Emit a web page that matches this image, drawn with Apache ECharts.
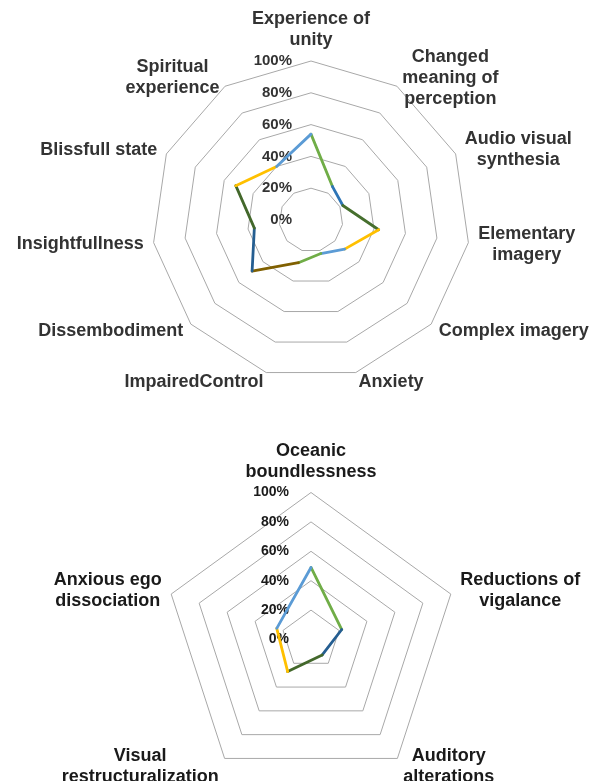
<!DOCTYPE html>
<html>
<head>
<meta charset="utf-8">
<script src="https://cdn.jsdelivr.net/npm/echarts@6/dist/echarts.min.js"></script>
<style>
    html, body { margin: 0; background: #fff; }
    #chart { width: 607px; height: 781px; }
</style>
</head>
<body>
<div id="chart"></div>
<script>
// upper radar, clockwise from the top
var topNames = ['Experience of\nunity', 'Changed\nmeaning of\nperception', 'Audio visual\nsynthesia', 'Elementary\nimagery',
    'Complex imagery', 'Anxiety', 'ImpairedControl', 'Dissembodiment', 'Insightfullness', 'Blissfull state', 'Spiritual\nexperience'];
var topValues = [54, 25, 22, 43, 28, 22, 28, 49, 36, 52, 40];
// colour of the segment going from axis i to axis i+1
var topSegColors = ['#70AD47', '#2E75B6', '#466F2E', '#FFC000', '#5B9BD5', '#70AD47', '#806000', '#255E91', '#43682B', '#FFC000', '#5B9BD5'];

// lower radar
var botNames = ['Oceanic\nboundlessness', 'Reductions of\nvigalance', 'Auditory\nalterations', 'Visual\nrestructuralization', 'Anxious ego\ndissociation'];
var botValues = [49, 22, 13, 27, 24.5];
var botSegColors = ['#70AD47', '#255E91', '#43682B', '#FFC000', '#5B9BD5'];

var pctMin = 0, pctMax = 100, pctSplit = 5;

var chart = echarts.init(document.getElementById('chart'));

function makeRadar(names, center, radius, color, labelSize, labelMargin) {
    // echarts lays indicators out anticlockwise, so flip the order
    var order = [0];
    for (var i = names.length - 1; i > 0; i--) order.push(i);
    return {
        center: center,
        radius: radius,
        startAngle: 90,
        shape: 'polygon',
        splitNumber: pctSplit,
        indicator: order.map(function (k, j) {
            var ind = { name: names[k], min: pctMin, max: pctMax };
            if (j === 0) ind.axisLabel = { show: true };
            return ind;
        }),
        nameGap: 10,
        axisName: {
            color: color,
            fontSize: 18,
            fontWeight: 'bold',
            fontFamily: 'Liberation Sans, Arial, sans-serif',
            formatter: function (name) {
                return name.split('\n').map(function (l) { return '{c|' + l + '}'; }).join('\n');
            },
            rich: { c: { align: 'center', lineHeight: 21 } }
        },
        axisLine: { show: false },
        axisTick: { show: false },
        axisLabel: {
            show: false,
            margin: labelMargin,
            color: color,
            fontSize: labelSize,
            fontWeight: 'bold',
            fontFamily: 'Liberation Sans, Arial, sans-serif',
            formatter: '{value}%'
        },
        splitArea: { show: false },
        splitLine: { lineStyle: { color: '#a8a8a8', width: 1 } }
    };
}

function segSeries(values, colors, polarIndex) {
    var n = values.length;
    return colors.map(function (c, i) {
        var j = (i + 1) % n;
        return {
            type: 'line',
            coordinateSystem: 'polar',
            polarIndex: polarIndex,
            data: [[values[i], i], [values[j], i + 1]],
            symbol: 'none',
            silent: true,
            lineStyle: { color: c, width: 2.8, cap: 'round' },
            z: 3
        };
    });
}

var option = {
    animation: false,
    radar: [
        makeRadar(topNames, [311, 220], 159, '#333', 15, 19),
        makeRadar(botNames, [311, 639.5], 147, '#1a1a1a', 14, 22)
    ],
    polar: [
        { center: [311, 220], radius: 159 },
        { center: [311, 639.5], radius: 147 }
    ],
    angleAxis: [
        { polarIndex: 0, type: 'value', min: 0, max: topValues.length, startAngle: 90, clockwise: true, show: false },
        { polarIndex: 1, type: 'value', min: 0, max: botValues.length, startAngle: 90, clockwise: true, show: false }
    ],
    radiusAxis: [
        { polarIndex: 0, min: pctMin, max: pctMax, show: false },
        { polarIndex: 1, min: pctMin, max: pctMax, show: false }
    ],
    series: segSeries(topValues, topSegColors, 0).concat(segSeries(botValues, botSegColors, 1))
};

chart.setOption(option);
</script>
</body>
</html>
